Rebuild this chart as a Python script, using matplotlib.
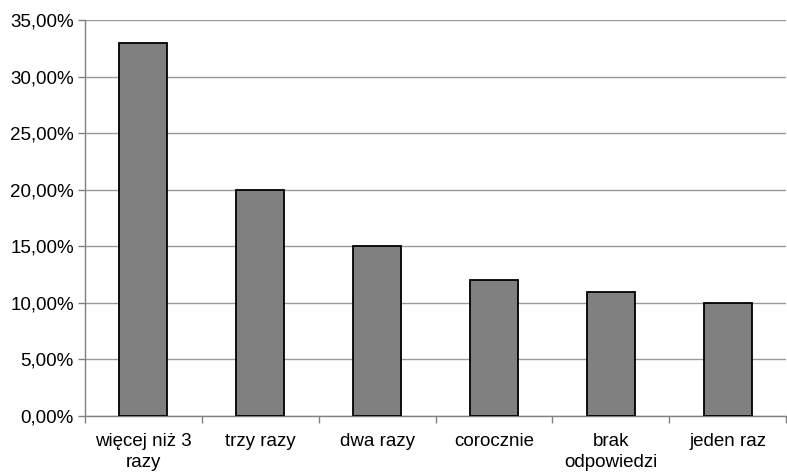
import numpy as np
import matplotlib.pyplot as plt
from matplotlib.ticker import FuncFormatter, FixedLocator

categories = ["więcej niż 3\nrazy", "trzy razy", "dwa razy", "corocznie", "brak\nodpowiedzi", "jeden raz"]
values = [33.0, 20.0, 15.0, 12.0, 11.0, 10.0]

plt.rcParams["font.family"] = ["Liberation Sans", "DejaVu Sans"]

fig = plt.figure(figsize=(7.87, 4.76), dpi=100)
ax = fig.add_axes([0.108, 0.126, 0.891, 0.832])

x = np.arange(len(categories))
ax.bar(x, values, width=0.41, color="#808080", edgecolor="black", linewidth=1.3, zorder=3)

ax.set_xlim(-0.5, len(categories) - 0.5)
ax.set_ylim(0, 35)
ax.set_yticks(np.arange(0, 36, 5))
ax.yaxis.set_major_formatter(FuncFormatter(lambda v, p: f"{v:.2f}%".replace(".", ",")))
ax.grid(axis="y", color="#999999", linewidth=1.0, zorder=0)

# category labels centered, ticks at the boundaries
ax.set_xticks(x)
ax.set_xticklabels(categories, fontsize=13.5, linespacing=1.35)
ax.tick_params(axis="x", which="major", length=0, pad=12)
ax.xaxis.set_minor_locator(FixedLocator(np.arange(-0.5, len(categories), 1.0)))
ax.tick_params(axis="x", which="minor", length=5, color="#808080", width=1)
ax.tick_params(axis="y", labelsize=13.5, length=5, color="#808080", width=1, pad=3)

for side in ["top", "right"]:
    ax.spines[side].set_visible(False)
for side in ["left", "bottom"]:
    ax.spines[side].set_color("#808080")
    ax.spines[side].set_linewidth(1)

fig.savefig("out.png", dpi=100)
